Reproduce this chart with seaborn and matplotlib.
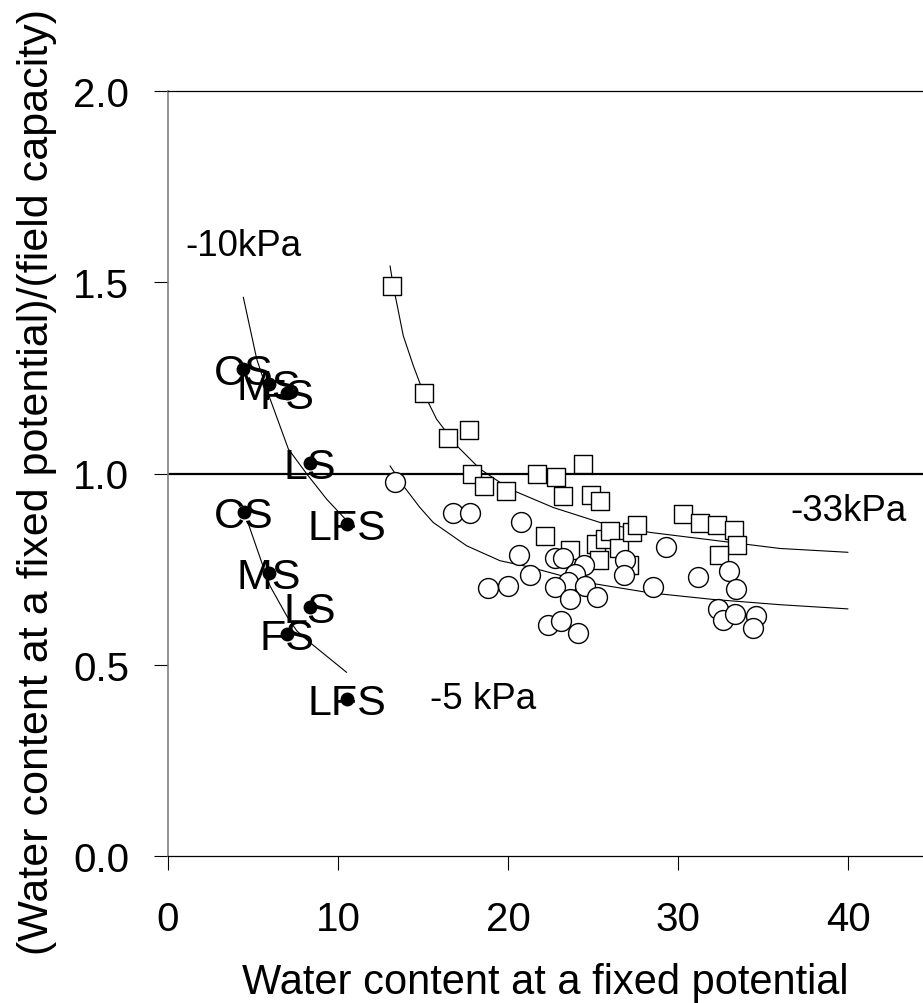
import matplotlib
matplotlib.use("Agg")
import numpy as np
import pandas as pd
import seaborn as sns
from matplotlib import pyplot as plt

# filled dots: sands at -10 kPa
labels_10kpa = ["CS", "MS", "FS", "LS", "LFS"]
x_10kpa = [4.43, 5.94, 6.98, 8.35, 10.51]
y_10kpa = [1.273, 1.234, 1.21, 1.027, 0.868]

# filled dots: sands at -5 kPa
labels_5kpa = ["CS", "MS", "LS", "FS", "LFS"]
x_5kpa = [4.47, 5.94, 8.35, 7.02, 10.55]
y_5kpa = [0.90, 0.74, 0.651, 0.58, 0.41]

# open squares
x_sq = [13.2, 15.06, 16.49, 17.69, 17.86, 18.59, 19.88, 21.71, 22.81, 24.43,
        23.21, 24.91, 25.41, 22.18, 23.65, 25.2, 25.37, 25.7, 25.98, 26.55,
        27.3, 27.58, 27.1, 30.3, 31.29, 32.3, 33.3, 33.45, 32.43]
y_sq = [1.491, 1.21, 1.093, 1.114, 0.999, 0.968, 0.953, 1.0, 0.991, 1.026,
        0.942, 0.944, 0.929, 0.837, 0.80, 0.816, 0.775, 0.829, 0.85, 0.805,
        0.847, 0.866, 0.761, 0.894, 0.871, 0.866, 0.852, 0.813, 0.788]

# open circles
x_ci = [13.35, 16.74, 17.74, 20.75, 20.67, 21.3, 18.84, 19.98, 22.76, 23.22,
        24.47, 23.94, 23.55, 22.76, 24.53, 23.65, 25.26, 26.88, 26.84, 22.33,
        23.12, 24.13, 29.29, 28.55, 31.2, 33.02, 33.4, 32.37, 32.67, 33.35,
        34.59, 34.4]
y_ci = [0.977, 0.898, 0.898, 0.872, 0.787, 0.735, 0.700, 0.705, 0.778, 0.778,
        0.760, 0.737, 0.717, 0.702, 0.706, 0.672, 0.678, 0.774, 0.735, 0.604,
        0.615, 0.584, 0.808, 0.702, 0.73, 0.744, 0.698, 0.647, 0.618, 0.633,
        0.627, 0.595]

# fitted curves
curve10_x = [4.43, 5.22, 5.94, 7.08, 8.16, 9.33, 10.51]
curve10_y = [1.461, 1.299, 1.203, 1.064, 0.999, 0.933, 0.877]
curve5_x = [4.73, 5.51, 6.0, 6.98, 7.57, 8.35, 10.51]
curve5_y = [0.868, 0.768, 0.706, 0.628, 0.589, 0.558, 0.48]
curve_sq_x = [13.06, 13.25, 13.84, 14.43, 15.02, 15.8, 16.98, 18.35, 20.12,
              22.67, 25.41, 28.35, 32.0, 36.0, 40.0]
curve_sq_y = [1.543, 1.491, 1.36, 1.282, 1.212, 1.142, 1.073, 1.012, 0.959,
              0.911, 0.872, 0.846, 0.826, 0.804, 0.794]
curve_ci_x = [13.06, 13.84, 14.82, 15.6, 17.57, 19.53, 21.3, 24.63, 28.35,
              32.0, 36.0, 40.0]
curve_ci_y = [1.02, 0.968, 0.911, 0.872, 0.811, 0.772, 0.755, 0.715, 0.688,
              0.671, 0.657, 0.646]

x_ticks = [0, 10, 20, 30, 40]
y_ticks = [0.0, 0.5, 1.0, 1.5, 2.0]

sns.set_style("ticks")
plt.rcParams['font.family'] = ['Liberation Sans', 'DejaVu Sans']
plt.rcParams['text.color'] = 'black'
plt.rcParams['axes.labelcolor'] = 'black'
plt.rcParams['xtick.color'] = 'black'
plt.rcParams['ytick.color'] = 'black'
FS = 30

fig = plt.figure(figsize=(9.23, 10.04), dpi=100)
ax = fig.add_axes([168 / 923, 147 / 1004, 765 / 923, 765 / 1004])

ax.axhline(1.0, color="black", lw=1.6, zorder=1)

for cx, cy in [(curve10_x, curve10_y), (curve5_x, curve5_y),
               (curve_sq_x, curve_sq_y), (curve_ci_x, curve_ci_y)]:
    sns.lineplot(x=cx, y=cy, ax=ax, color="black", lw=0.8, sort=False,
                 estimator=None, zorder=2)

sns.scatterplot(x=x_sq, y=y_sq, ax=ax, marker="s", s=165, facecolor="white",
                edgecolor="black", linewidth=1.0, zorder=3)
sns.scatterplot(x=x_ci, y=y_ci, ax=ax, marker="o", s=205, facecolor="white",
                edgecolor="black", linewidth=1.0, zorder=4)

for lab, xs, ys in [(labels_10kpa, x_10kpa, y_10kpa), (labels_5kpa, x_5kpa, y_5kpa)]:
    for t, px, py in zip(lab, xs, ys):
        ax.annotate(t, (px, py), xytext=(0, -11), textcoords="offset points",
                    ha="center", va="baseline", fontsize=31, zorder=5)
    sns.scatterplot(x=xs, y=ys, ax=ax, marker="o", s=100, color="black",
                    edgecolor="black", linewidth=0, zorder=6)

ax.text(1.05, 1.571, "-10kPa", fontsize=26.5, ha="left", va="baseline")
ax.text(36.6, 0.878, "-33kPa", fontsize=26.5, ha="left", va="baseline")
ax.text(15.4, 0.387, "-5 kPa", fontsize=26.5, ha="left", va="baseline")

ax.set_xlim(0, 45)
ax.set_ylim(0, 2.0)
ax.set_xticks(x_ticks)
ax.set_yticks(y_ticks)
ax.set_yticklabels([f"{v:.1f}" for v in y_ticks])
ax.tick_params(axis="both", direction="out", length=10, width=0.8,
               labelsize=29, color="black")
ax.tick_params(axis="x", pad=22)
ax.tick_params(axis="y", pad=18)

for side in ["top", "bottom"]:
    ax.spines[side].set_visible(True)
    ax.spines[side].set_color("black")
    ax.spines[side].set_linewidth(0.9)
ax.spines["left"].set_color("#808080")
ax.spines["left"].set_linewidth(1.2)
ax.spines["right"].set_visible(False)

ax.set_xlabel("Water content at a fixed potential", fontsize=FS)
ax.xaxis.set_label_coords(0.4935, -0.139)
ax.set_ylabel("(Water content at a fixed potential)/(field capacity)", fontsize=31)
ax.yaxis.set_label_coords(-0.145, 0.49)

fig.savefig("out.png", dpi=100)
